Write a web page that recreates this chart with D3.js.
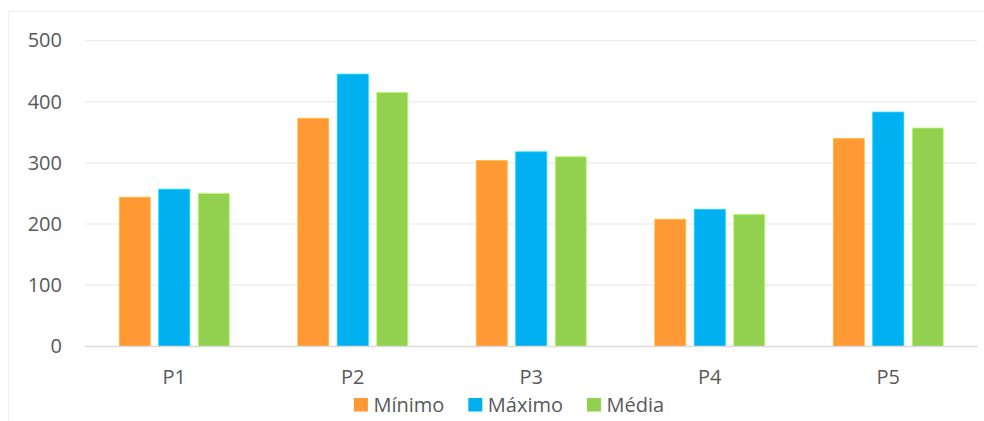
<!DOCTYPE html>
<html>
<head>
<meta charset="utf-8">
<script src="https://cdn.jsdelivr.net/npm/d3@7"></script>
<style>
  html, body { margin: 0; padding: 0; background: #ffffff; }
  svg { display: block; }
  text { font-family: "Open Sans", "Noto Sans", sans-serif; fill: #595959; }
</style>
</head>
<body>
<svg id="chart" width="984" height="421"></svg>
<script>
// Periods on the x axis
const categories = ["P1", "P2", "P3", "P4", "P5"];
// Series names, shown in the legend
const seriesNames = ["Mínimo", "Máximo", "Média"];
// Values per series, one per period
const minimo = [244, 373, 304, 208, 340];
const maximo = [257, 445, 318, 224, 383];
const media  = [250, 415, 310, 216, 357];
// Y axis ticks
const yTicks = [0, 100, 200, 300, 400, 500];

const seriesValues = [minimo, maximo, media];
const colors = ["#FF9933", "#00B0F0", "#92D050"];

const svg = d3.select("#chart");

// Chart area frame
svg.append("rect")
  .attr("x", 8.5).attr("y", 11.5)
  .attr("width", 990).attr("height", 430)
  .attr("fill", "none")
  .attr("stroke", "#efefef")
  .attr("stroke-width", 1);

const plot = { left: 85, right: 977.5, top: 40.5, bottom: 346.5 };

const x = d3.scaleBand()
  .domain(categories)
  .range([plot.left, plot.right])
  .paddingInner(0).paddingOuter(0);

const xInner = d3.scaleBand()
  .domain(seriesNames)
  .range([-55, 55])
  .paddingInner(0.215).paddingOuter(0);

const y = d3.scaleLinear()
  .domain([0, 500])
  .range([plot.bottom, plot.top]);

// Horizontal gridlines
svg.append("g")
  .selectAll("line")
  .data(yTicks.filter(d => d > 0))
  .join("line")
  .attr("x1", plot.left).attr("x2", plot.right)
  .attr("y1", d => y(d)).attr("y2", d => y(d))
  .attr("stroke", "#eeeeee")
  .attr("stroke-width", 1.5);

// Y axis labels
const yAxis = d3.axisLeft(y).tickValues(yTicks).tickSize(0).tickPadding(0);
svg.append("g")
  .attr("transform", "translate(62,0)")
  .call(yAxis)
  .call(g => g.select(".domain").remove())
  .call(g => g.selectAll("text")
    .attr("font-size", "20px")
    .attr("fill", "#595959")
    .attr("font-family", "'Open Sans', sans-serif"));

// Bars
const groups = svg.append("g")
  .selectAll("g")
  .data(categories)
  .join("g")
  .attr("transform", d => `translate(${x(d) + x.bandwidth() / 2},0)`);

groups.selectAll("rect")
  .data((c, i) => seriesNames.map((s, k) => ({ s, k, v: seriesValues[k][i] })))
  .join("rect")
  .attr("x", d => xInner(d.s))
  .attr("width", xInner.bandwidth())
  .attr("y", d => y(d.v))
  .attr("height", d => y(0) - y(d.v))
  .attr("fill", d => colors[d.k])
  .attr("stroke", d => d3.color(colors[d.k]).brighter(0.6))
  .attr("stroke-width", 0.8);

// Baseline
svg.append("line")
  .attr("x1", plot.left).attr("x2", plot.right)
  .attr("y1", y(0)).attr("y2", y(0))
  .attr("stroke", "#d9d9d9")
  .attr("stroke-width", 1.5);

// X axis labels
const xAxis = d3.axisBottom(x).tickSize(0).tickPadding(0);
svg.append("g")
  .attr("transform", `translate(0,${y(0) + 23})`)
  .call(xAxis)
  .call(g => g.select(".domain").remove())
  .call(g => g.selectAll("text")
    .attr("font-size", "20px")
    .attr("fill", "#595959")
    .attr("font-family", "'Open Sans', sans-serif"));

// Legend
const legend = svg.append("g");
let cursor = 0;
const items = [];
seriesNames.forEach((name, k) => {
  const g = legend.append("g");
  g.append("rect")
    .attr("x", 0).attr("y", -13.5)
    .attr("width", 14).attr("height", 13.5)
    .attr("fill", colors[k]);
  const t = g.append("text")
    .attr("x", 19.5).attr("y", 0)
    .attr("font-size", "20px")
    .text(name);
  const w = 19.5 + t.node().getComputedTextLength();
  g.attr("transform", `translate(${cursor},0)`);
  cursor += w + 24;
  items.push(g);
});
const legendWidth = cursor - 24;
legend.attr("transform", `translate(${509 - legendWidth / 2},411.5)`);
</script>
</body>
</html>
